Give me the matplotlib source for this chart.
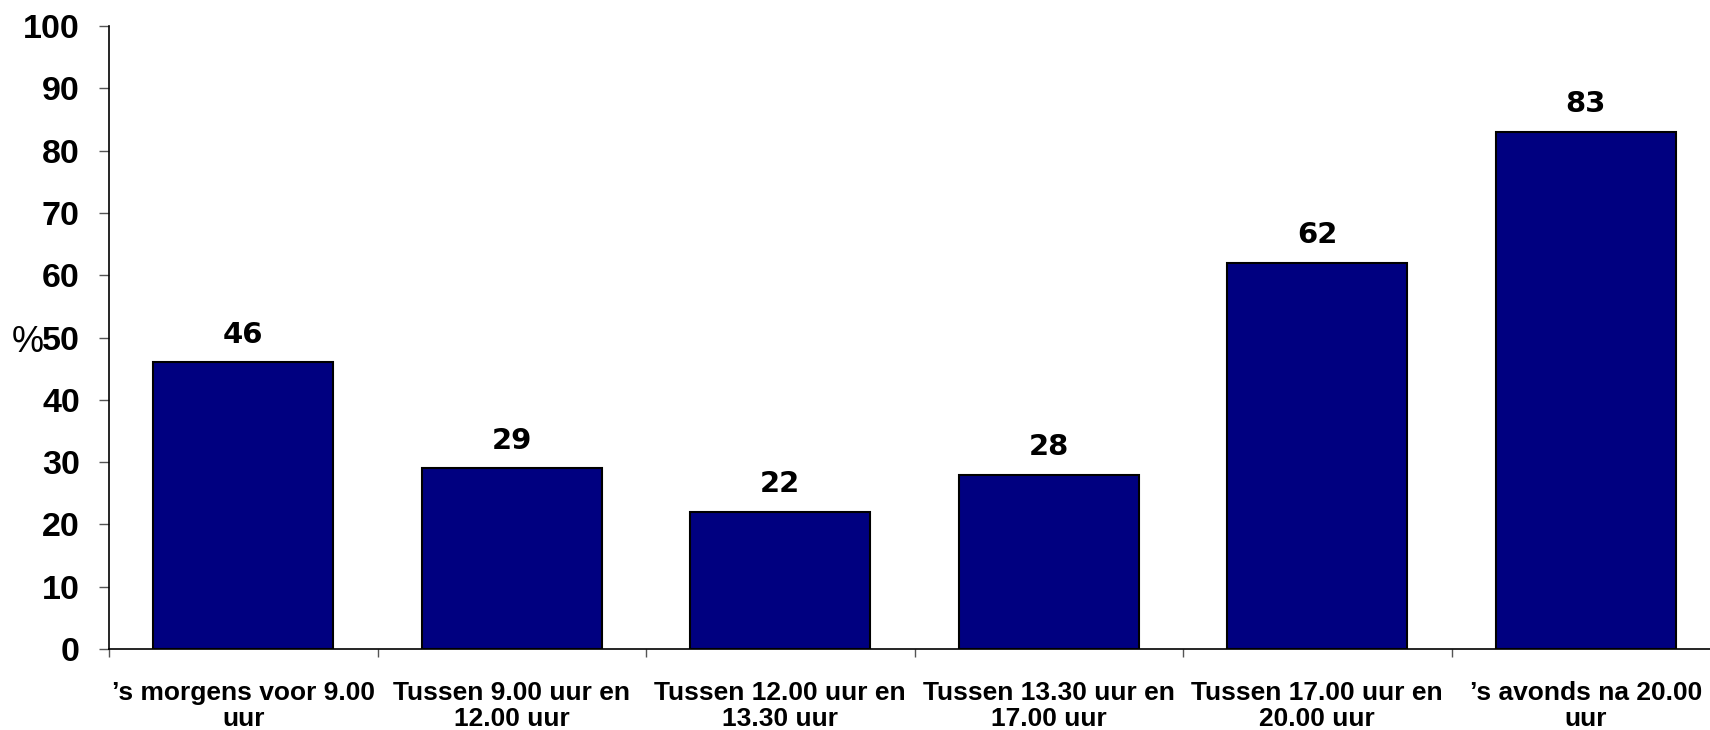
import matplotlib.pyplot as plt

categories = ["\u2019s morgens voor 9.00\nuur", "Tussen 9.00 uur en\n12.00 uur",
              "Tussen 12.00 uur en\n13.30 uur", "Tussen 13.30 uur en\n17.00 uur",
              "Tussen 17.00 uur en\n20.00 uur", "\u2019s avonds na 20.00\nuur"]
values = [46, 29, 22, 28, 62, 83]
yticks = [0, 10, 20, 30, 40, 50, 60, 70, 80, 90, 100]

fig = plt.figure(figsize=(17.1, 7.3), dpi=100)
ax = fig.add_axes([109 / 1710, 1 - 649 / 730, (1720 - 109) / 1710, (649 - 26) / 730])

x = list(range(len(values)))
ax.bar(x, values, width=0.67, color="#000080", edgecolor="black", linewidth=1.5)

for xi, v in zip(x, values):
    ax.text(xi, v + 2.2, str(v), ha="center", va="bottom", fontsize=21,
            fontweight="bold", family="DejaVu Sans")

ax.set_xlim(-0.5, len(values) - 0.5)
ax.set_ylim(0, 100)
ax.set_yticks(yticks)
ax.set_yticklabels([str(t) for t in yticks], fontsize=24.5, fontweight="bold",
                   family="Liberation Sans")
ax.tick_params(axis="y", length=7, width=1, pad=14, color="#555555")

# category boundaries as major ticks, names as minor ticks
ax.set_xticks([i + 0.5 for i in range(-1, len(values))], minor=False)
ax.set_xticklabels([])
ax.tick_params(axis="x", length=6, width=1, color="#555555")
ax.set_xticks(x, minor=True)
ax.set_xticklabels(categories, minor=True, fontsize=19, fontweight="bold",
                   family="Liberation Sans", linespacing=1.12)
ax.tick_params(axis="x", which="minor", length=0, pad=23)

for s in ["top", "right"]:
    ax.spines[s].set_visible(False)
ax.spines["left"].set_linewidth(1.2)
ax.spines["bottom"].set_linewidth(1.2)

fig.text(12 / 1710, 1 - 343 / 730, "%", fontsize=26, family="Liberation Sans",
         va="center", ha="left")

fig.savefig("out.png", dpi=100)
